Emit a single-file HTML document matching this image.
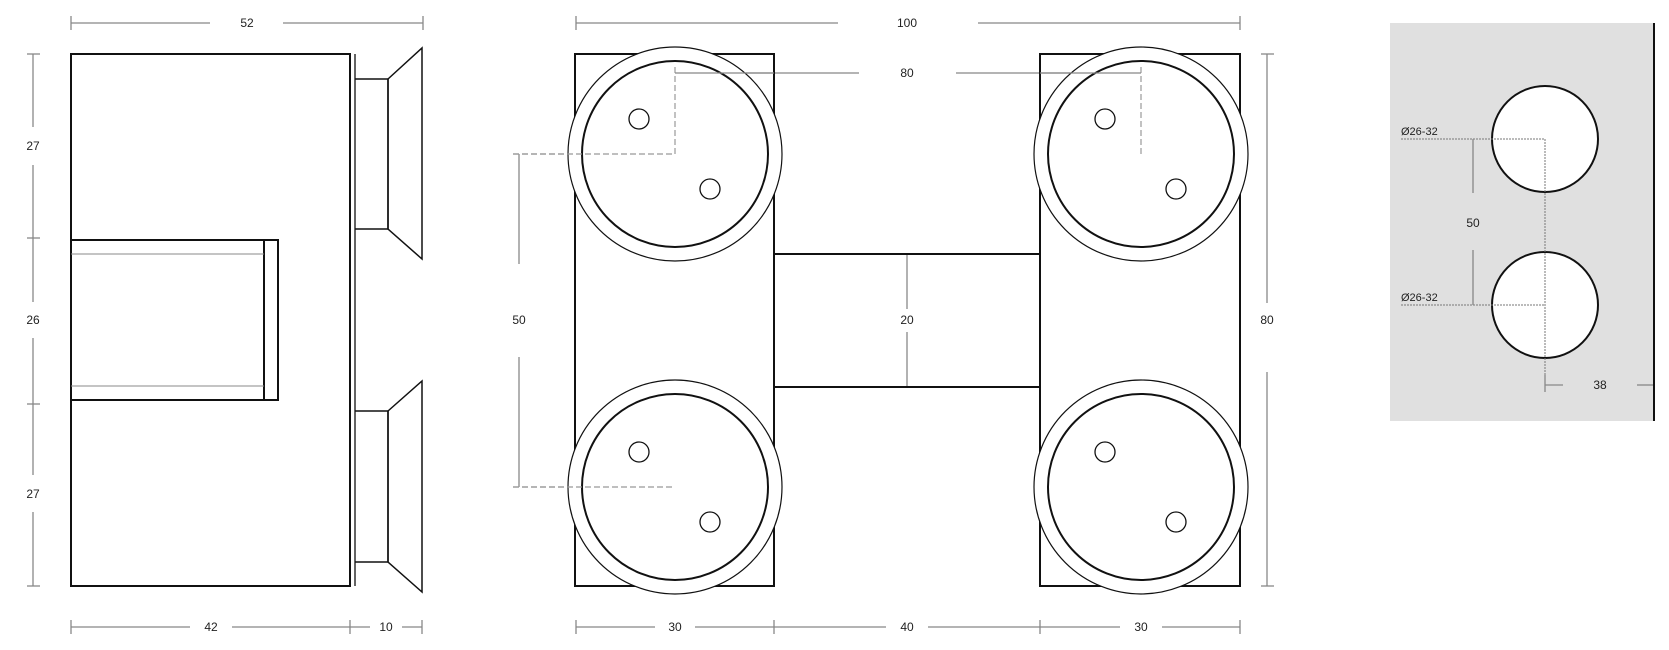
<!DOCTYPE html>
<html><head><meta charset="utf-8"><style>
html,body{margin:0;padding:0;background:#fff}
svg{display:block}
text{font-family:"Liberation Sans",sans-serif;font-size:12px;fill:#222}
</style></head><body>
<svg width="1669" height="650" viewBox="0 0 1669 650" xmlns="http://www.w3.org/2000/svg">
<g stroke="#888" stroke-width="1.3" fill="none">
 <line x1="71" y1="23" x2="210" y2="23"/><line x1="283" y1="23" x2="423" y2="23"/>
 <line x1="71" y1="16" x2="71" y2="30"/><line x1="423" y1="16" x2="423" y2="30"/>
 <line x1="33" y1="54" x2="33" y2="127"/><line x1="33" y1="165" x2="33" y2="302"/><line x1="33" y1="338" x2="33" y2="475"/><line x1="33" y1="512" x2="33" y2="586"/>
 <line x1="27" y1="54" x2="40" y2="54"/><line x1="27" y1="238" x2="40" y2="238"/><line x1="27" y1="404" x2="40" y2="404"/><line x1="27" y1="586" x2="40" y2="586"/>
 <line x1="71" y1="627" x2="190" y2="627"/><line x1="232" y1="627" x2="350" y2="627"/><line x1="350" y1="627" x2="370" y2="627"/><line x1="402" y1="627" x2="422" y2="627"/>
 <line x1="71" y1="620" x2="71" y2="634"/><line x1="350" y1="620" x2="350" y2="634"/><line x1="422" y1="620" x2="422" y2="634"/>
 <line x1="576" y1="23" x2="838" y2="23"/><line x1="978" y1="23" x2="1240" y2="23"/>
 <line x1="576" y1="16" x2="576" y2="30"/><line x1="1240" y1="16" x2="1240" y2="30"/>
 <line x1="677" y1="73" x2="859" y2="73"/><line x1="956" y1="73" x2="1141" y2="73"/>
 <line x1="519" y1="154" x2="519" y2="264"/><line x1="519" y1="357" x2="519" y2="487"/>
 <line x1="907" y1="254" x2="907" y2="309"/><line x1="907" y1="332" x2="907" y2="387"/>
 <line x1="1267" y1="54" x2="1267" y2="303"/><line x1="1267" y1="372" x2="1267" y2="586"/>
 <line x1="1261" y1="54" x2="1274" y2="54"/><line x1="1261" y1="586" x2="1274" y2="586"/>
 <line x1="576" y1="627" x2="655" y2="627"/><line x1="695" y1="627" x2="886" y2="627"/><line x1="928" y1="627" x2="1120" y2="627"/><line x1="1162" y1="627" x2="1240" y2="627"/>
 <line x1="576" y1="620" x2="576" y2="634"/><line x1="774" y1="620" x2="774" y2="634"/><line x1="1040" y1="620" x2="1040" y2="634"/><line x1="1240" y1="620" x2="1240" y2="634"/>
</g>
<g stroke="#999" stroke-width="1.2" fill="none" stroke-dasharray="6,3">
 <line x1="513" y1="154" x2="675" y2="154"/>
 <line x1="513" y1="487" x2="675" y2="487"/>
</g>
<g stroke="#111" fill="none">
 <rect x="71" y="54" width="279" height="532" stroke-width="2"/>
 <line x1="355" y1="54" x2="355" y2="586" stroke-width="1.3"/>
 <rect x="71" y="240" width="207" height="160" stroke-width="2"/>
 <line x1="264" y1="240" x2="264" y2="400" stroke-width="2"/>
 <line x1="71" y1="254" x2="264" y2="254" stroke="#888" stroke-width="1"/>
 <line x1="71" y1="386" x2="264" y2="386" stroke="#888" stroke-width="1"/>
 <g stroke-width="1.5">
 <polyline points="355,79 388,79 388,229 355,229"/>
 <polygon points="388,79 422,48 422,259 388,229"/>
 <polyline points="355,411 388,411 388,562 355,562"/>
 <polygon points="388,411 422,381 422,592 388,562"/>
 </g>
</g>
<g stroke="#111" fill="none" stroke-width="2">
 <rect x="575" y="54" width="199" height="532"/>
 <rect x="1040" y="54" width="200" height="532"/>
 <rect x="774" y="254" width="266" height="133"/>
</g>
<g fill="#fff" stroke="#111">
 <circle cx="675" cy="154" r="107" stroke-width="1.2"/><circle cx="675" cy="154" r="93" stroke-width="2"/>
 <circle cx="675" cy="487" r="107" stroke-width="1.2"/><circle cx="675" cy="487" r="93" stroke-width="2"/>
 <circle cx="1141" cy="154" r="107" stroke-width="1.2"/><circle cx="1141" cy="154" r="93" stroke-width="2"/>
 <circle cx="1141" cy="487" r="107" stroke-width="1.2"/><circle cx="1141" cy="487" r="93" stroke-width="2"/>
</g>
<g stroke="#999" stroke-width="1.2" fill="none" stroke-dasharray="6,3">
 <line x1="513" y1="154" x2="675" y2="154"/><line x1="675" y1="154" x2="675" y2="64"/>
 <line x1="513" y1="487" x2="675" y2="487"/>
 <line x1="1141" y1="154" x2="1141" y2="64"/>
</g>
<line x1="675" y1="73" x2="774" y2="73" stroke="#888" stroke-width="1.3"/>
<line x1="1040" y1="73" x2="1141" y2="73" stroke="#888" stroke-width="1.3"/>
<g fill="#fff" stroke="#111" stroke-width="1.3">
 <circle cx="639" cy="119" r="10"/><circle cx="710" cy="189" r="10"/>
 <circle cx="639" cy="452" r="10"/><circle cx="710" cy="522" r="10"/>
 <circle cx="1105" cy="119" r="10"/><circle cx="1176" cy="189" r="10"/>
 <circle cx="1105" cy="452" r="10"/><circle cx="1176" cy="522" r="10"/>
</g>
<rect x="1390" y="23" width="263" height="398" fill="#e0e0e0"/>
<line x1="1654" y1="23" x2="1654" y2="421" stroke="#111" stroke-width="2"/>
<circle cx="1545" cy="139" r="53" fill="#fff" stroke="#111" stroke-width="2"/>
<circle cx="1545" cy="305" r="53" fill="#fff" stroke="#111" stroke-width="2"/>
<g stroke="#777" stroke-width="1" stroke-dasharray="2,1" fill="none">
 <line x1="1401" y1="139" x2="1545" y2="139"/><line x1="1401" y1="305" x2="1545" y2="305"/>
 <line x1="1545" y1="139" x2="1545" y2="392"/>
</g>
<g stroke="#888" stroke-width="1.3">
 <line x1="1473" y1="139" x2="1473" y2="193"/><line x1="1473" y1="250" x2="1473" y2="305"/>
 <line x1="1545" y1="385" x2="1563" y2="385"/><line x1="1637" y1="385" x2="1653" y2="385"/>
 <line x1="1545" y1="375" x2="1545" y2="392"/>
</g>
<g text-anchor="middle">
 <text x="247" y="27">52</text>
 <text x="33" y="150">27</text><text x="33" y="324">26</text><text x="33" y="498">27</text>
 <text x="211" y="631">42</text><text x="386" y="631">10</text>
 <text x="907" y="27">100</text><text x="907" y="77">80</text>
 <text x="519" y="324">50</text><text x="907" y="324">20</text><text x="1267" y="324">80</text>
 <text x="675" y="631">30</text><text x="907" y="631">40</text><text x="1141" y="631">30</text>
 <text x="1473" y="227">50</text><text x="1600" y="389">38</text>
</g>
<text x="1401" y="135" style="font-size:11px">Ø26-32</text>
<text x="1401" y="301" style="font-size:11px">Ø26-32</text>
</svg>
</body></html>
